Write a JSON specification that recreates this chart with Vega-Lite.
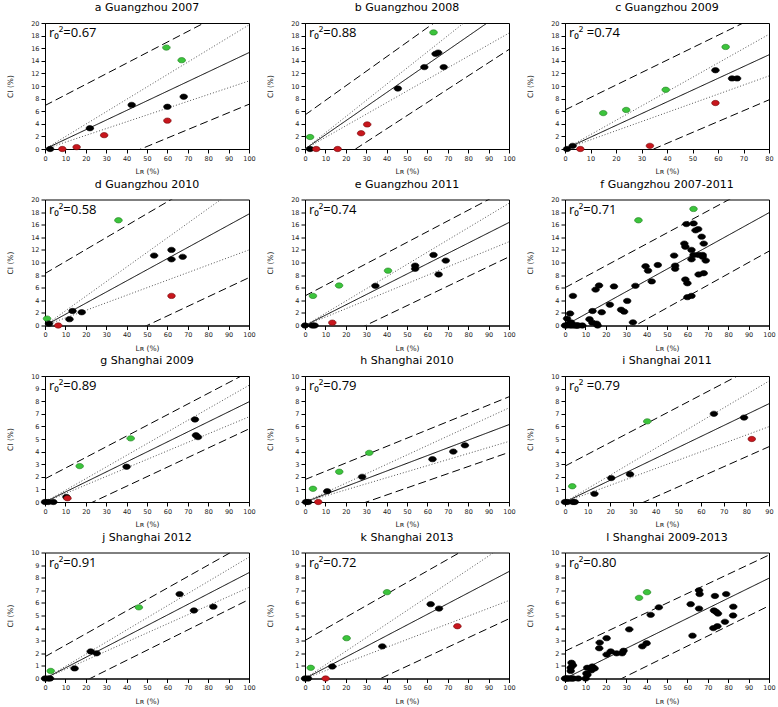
{
"$schema":"https://vega.github.io/schema/vega-lite/v6.json",
"padding":{"left":6,"top":1,"right":4,"bottom":4},
"background":"white",
"columns":3,
"spacing":{"row":50.5,"column":56},
"bounds":"flush",
"config":{
 "view":{"stroke":"#000","strokeWidth":1},
 "axis":{"grid":false,"domainColor":"#000","tickColor":"#000","tickSize":4,"labelFontSize":6.5,"labelFont":"DejaVu Sans","labelColor":"#222","labelPadding":2,"labelFlush":false,"labelOverlap":false,"labelSeparation":0,"titleFontSize":7.5,"titleFont":"DejaVu Sans","titleFontWeight":"normal","titleColor":"#222"},
 "axisX":{"titlePadding":6},
 "axisY":{"titlePadding":16},
 "title":{"fontSize":11,"font":"DejaVu Sans","fontWeight":"normal","color":"#000","offset":7}
},
"datasets":{
"lines":[
{"p":"a","s":"fit","x":0,"y":0},{"p":"a","s":"fit","x":100,"y":15.3},
{"p":"a","s":"ciU","x":0,"y":0},{"p":"a","s":"ciU","x":100,"y":19.7},
{"p":"a","s":"ciL","x":0,"y":0},{"p":"a","s":"ciL","x":100,"y":10.8},
{"p":"a","s":"piU","x":0,"y":6.9},{"p":"a","s":"piU","x":100,"y":23.7},
{"p":"a","s":"piL","x":0,"y":-6.3},{"p":"a","s":"piL","x":100,"y":7.1},
{"p":"b","s":"fit","x":0,"y":0},{"p":"b","s":"fit","x":100,"y":22.4},
{"p":"b","s":"ciU","x":0,"y":0},{"p":"b","s":"ciU","x":100,"y":25.7},
{"p":"b","s":"ciL","x":0,"y":0},{"p":"b","s":"ciL","x":100,"y":18.4},
{"p":"b","s":"piU","x":0,"y":5.4},{"p":"b","s":"piU","x":100,"y":28.5},
{"p":"b","s":"piL","x":0,"y":-5.2},{"p":"b","s":"piL","x":100,"y":15.8},
{"p":"c","s":"fit","x":0,"y":0},{"p":"c","s":"fit","x":80,"y":14.95},
{"p":"c","s":"ciU","x":0,"y":0},{"p":"c","s":"ciU","x":80,"y":18.2},
{"p":"c","s":"ciL","x":0,"y":0},{"p":"c","s":"ciL","x":80,"y":11.6},
{"p":"c","s":"piU","x":0,"y":6.2},{"p":"c","s":"piU","x":80,"y":22.0},
{"p":"c","s":"piL","x":0,"y":-6.0},{"p":"c","s":"piL","x":80,"y":7.8},
{"p":"d","s":"fit","x":0,"y":0},{"p":"d","s":"fit","x":100,"y":17.7},
{"p":"d","s":"ciU","x":0,"y":0},{"p":"d","s":"ciU","x":100,"y":23.2},
{"p":"d","s":"ciL","x":0,"y":0},{"p":"d","s":"ciL","x":100,"y":12.0},
{"p":"d","s":"piU","x":0,"y":8.25},{"p":"d","s":"piU","x":100,"y":27.25},
{"p":"d","s":"piL","x":0,"y":-7.6},{"p":"d","s":"piL","x":100,"y":7.6},
{"p":"e","s":"fit","x":0,"y":0},{"p":"e","s":"fit","x":100,"y":16.35},
{"p":"e","s":"ciU","x":0,"y":0},{"p":"e","s":"ciU","x":100,"y":19.4},
{"p":"e","s":"ciL","x":0,"y":0},{"p":"e","s":"ciL","x":100,"y":13.3},
{"p":"e","s":"piU","x":0,"y":4.7},{"p":"e","s":"piU","x":100,"y":21.7},
{"p":"e","s":"piL","x":0,"y":-4.6},{"p":"e","s":"piL","x":100,"y":10.9},
{"p":"f","s":"fit","x":0,"y":0},{"p":"f","s":"fit","x":100,"y":17.9},
{"p":"f","s":"piU","x":0,"y":6.0},{"p":"f","s":"piU","x":100,"y":23.4},
{"p":"f","s":"piL","x":0,"y":-6.2},{"p":"f","s":"piL","x":100,"y":11.8},
{"p":"g","s":"fit","x":0,"y":0},{"p":"g","s":"fit","x":100,"y":7.95},
{"p":"g","s":"ciU","x":0,"y":0},{"p":"g","s":"ciU","x":100,"y":9.26},
{"p":"g","s":"ciL","x":0,"y":0},{"p":"g","s":"ciL","x":100,"y":6.76},
{"p":"g","s":"piU","x":0,"y":1.84},{"p":"g","s":"piU","x":100,"y":10.32},
{"p":"g","s":"piL","x":0,"y":-1.78},{"p":"g","s":"piL","x":100,"y":5.8},
{"p":"h","s":"fit","x":0,"y":0},{"p":"h","s":"fit","x":100,"y":6.14},
{"p":"h","s":"ciU","x":0,"y":0},{"p":"h","s":"ciU","x":100,"y":7.47},
{"p":"h","s":"ciL","x":0,"y":0},{"p":"h","s":"ciL","x":100,"y":4.81},
{"p":"h","s":"piU","x":0,"y":1.78},{"p":"h","s":"piU","x":100,"y":8.35},
{"p":"h","s":"piL","x":0,"y":-1.7},{"p":"h","s":"piL","x":100,"y":3.94},
{"p":"i","s":"fit","x":0,"y":0},{"p":"i","s":"fit","x":90,"y":7.8},
{"p":"i","s":"ciU","x":0,"y":0},{"p":"i","s":"ciU","x":90,"y":9.6},
{"p":"i","s":"ciL","x":0,"y":0},{"p":"i","s":"ciL","x":90,"y":5.98},
{"p":"i","s":"piU","x":0,"y":2.85},{"p":"i","s":"piU","x":90,"y":11.31},
{"p":"i","s":"piL","x":0,"y":-2.78},{"p":"i","s":"piL","x":90,"y":4.39},
{"p":"j","s":"fit","x":0,"y":0},{"p":"j","s":"fit","x":100,"y":8.4},
{"p":"j","s":"ciU","x":0,"y":0},{"p":"j","s":"ciU","x":100,"y":9.63},
{"p":"j","s":"ciL","x":0,"y":0},{"p":"j","s":"ciL","x":100,"y":7.23},
{"p":"j","s":"piU","x":0,"y":1.73},{"p":"j","s":"piU","x":100,"y":10.82},
{"p":"j","s":"piL","x":0,"y":-1.78},{"p":"j","s":"piL","x":100,"y":6.27},
{"p":"k","s":"fit","x":0,"y":0},{"p":"k","s":"fit","x":100,"y":8.49},
{"p":"k","s":"ciU","x":0,"y":0},{"p":"k","s":"ciU","x":100,"y":10.8},
{"p":"k","s":"ciL","x":0,"y":0},{"p":"k","s":"ciL","x":100,"y":6.19},
{"p":"k","s":"piU","x":0,"y":3.02},{"p":"k","s":"piU","x":100,"y":12.22},
{"p":"k","s":"piL","x":0,"y":-2.79},{"p":"k","s":"piL","x":100,"y":4.74},
{"p":"l","s":"fit","x":0,"y":0},{"p":"l","s":"fit","x":100,"y":7.96},
{"p":"l","s":"piU","x":0,"y":2.17},{"p":"l","s":"piU","x":100,"y":9.8},
{"p":"l","s":"piL","x":0,"y":-2.22},{"p":"l","s":"piL","x":100,"y":5.77}
],
"pts":[
{"p":"a","c":"k","x":2.5,"y":0},{"p":"a","c":"k","x":22,"y":3.3},{"p":"a","c":"k","x":42.5,"y":7.0},{"p":"a","c":"k","x":60,"y":6.7},{"p":"a","c":"k","x":68,"y":8.3},
{"p":"a","c":"g","x":59.5,"y":16.1},{"p":"a","c":"g","x":67,"y":14.1},
{"p":"a","c":"r","x":8.5,"y":0},{"p":"a","c":"r","x":15.5,"y":0.3},{"p":"a","c":"r","x":29,"y":2.2},{"p":"a","c":"r","x":60,"y":4.5},
{"p":"b","c":"g","x":63,"y":18.5},{"p":"b","c":"g","x":2.5,"y":1.9},
{"p":"b","c":"k","x":2.5,"y":0},{"p":"b","c":"k","x":45.5,"y":9.6},{"p":"b","c":"k","x":58.5,"y":13.0},{"p":"b","c":"k","x":64,"y":15.1},{"p":"b","c":"k","x":65.3,"y":15.3},{"p":"b","c":"k","x":68,"y":13.0},
{"p":"b","c":"r","x":5.5,"y":0},{"p":"b","c":"r","x":16,"y":0},{"p":"b","c":"r","x":27.5,"y":2.5},{"p":"b","c":"r","x":30.5,"y":3.9},
{"p":"c","c":"k","x":0.8,"y":0},{"p":"c","c":"k","x":3,"y":0.5},{"p":"c","c":"k","x":59,"y":12.5},{"p":"c","c":"k","x":65.5,"y":11.2},{"p":"c","c":"k","x":67.5,"y":11.2},
{"p":"c","c":"g","x":15,"y":5.7},{"p":"c","c":"g","x":24,"y":6.2},{"p":"c","c":"g","x":39.5,"y":9.4},{"p":"c","c":"g","x":63,"y":16.2},
{"p":"c","c":"r","x":6,"y":0},{"p":"c","c":"r","x":33.3,"y":0.5},{"p":"c","c":"r","x":59,"y":7.3},
{"p":"d","c":"g","x":1,"y":1.1},{"p":"d","c":"g","x":36,"y":16.7},
{"p":"d","c":"k","x":2,"y":0.3},{"p":"d","c":"k","x":12,"y":1.0},{"p":"d","c":"k","x":13.5,"y":2.3},{"p":"d","c":"k","x":18,"y":2.1},{"p":"d","c":"k","x":53.5,"y":11.1},{"p":"d","c":"k","x":62,"y":12.0},{"p":"d","c":"k","x":62,"y":10.5},{"p":"d","c":"k","x":67.5,"y":10.9},
{"p":"d","c":"r","x":6.5,"y":0},{"p":"d","c":"r","x":62,"y":4.7},
{"p":"e","c":"k","x":0,"y":0},{"p":"e","c":"k","x":3.6,"y":0},{"p":"e","c":"k","x":4.7,"y":0},{"p":"e","c":"k","x":34.5,"y":6.3},{"p":"e","c":"k","x":54,"y":9.5},{"p":"e","c":"k","x":54,"y":9.0},{"p":"e","c":"k","x":63,"y":11.2},{"p":"e","c":"k","x":65.5,"y":8.1},{"p":"e","c":"k","x":69,"y":10.3},
{"p":"e","c":"g","x":3.9,"y":4.7},{"p":"e","c":"g","x":16.7,"y":6.35},{"p":"e","c":"g","x":40.7,"y":8.7},
{"p":"e","c":"r","x":13.4,"y":0.45},
{"p":"f","c":"k","x":2.5,"y":0},{"p":"f","c":"k","x":22,"y":3.3},{"p":"f","c":"k","x":42.5,"y":7.0},{"p":"f","c":"k","x":60,"y":6.7},{"p":"f","c":"k","x":68,"y":8.3},
{"p":"f","c":"k","x":59.5,"y":16.1},{"p":"f","c":"k","x":67,"y":14.1},
{"p":"f","c":"k","x":8.5,"y":0},{"p":"f","c":"k","x":15.5,"y":0.3},{"p":"f","c":"k","x":29,"y":2.2},{"p":"f","c":"k","x":60,"y":4.5},
{"p":"f","c":"k","x":2.5,"y":1.9},
{"p":"f","c":"k","x":45.5,"y":9.6},{"p":"f","c":"k","x":58.5,"y":13.0},{"p":"f","c":"k","x":64,"y":15.1},{"p":"f","c":"k","x":65.3,"y":15.3},{"p":"f","c":"k","x":68,"y":13.0},
{"p":"f","c":"k","x":5.5,"y":0},{"p":"f","c":"k","x":16,"y":0},{"p":"f","c":"k","x":27.5,"y":2.5},{"p":"f","c":"k","x":30.5,"y":3.9},
{"p":"f","c":"k","x":0.8,"y":0},{"p":"f","c":"k","x":3,"y":0.5},{"p":"f","c":"k","x":59,"y":12.5},{"p":"f","c":"k","x":65.5,"y":11.2},{"p":"f","c":"k","x":67.5,"y":11.2},
{"p":"f","c":"k","x":15,"y":5.7},{"p":"f","c":"k","x":24,"y":6.2},{"p":"f","c":"k","x":39.5,"y":9.4},{"p":"f","c":"k","x":63,"y":16.2},
{"p":"f","c":"k","x":6,"y":0},{"p":"f","c":"k","x":33.3,"y":0.5},{"p":"f","c":"k","x":59,"y":7.3},
{"p":"f","c":"k","x":1,"y":1.1},
{"p":"f","c":"k","x":2,"y":0.3},{"p":"f","c":"k","x":12,"y":1.0},{"p":"f","c":"k","x":13.5,"y":2.3},{"p":"f","c":"k","x":18,"y":2.1},{"p":"f","c":"k","x":53.5,"y":11.1},{"p":"f","c":"k","x":62,"y":12.0},{"p":"f","c":"k","x":62,"y":10.5},{"p":"f","c":"k","x":67.5,"y":10.9},
{"p":"f","c":"k","x":6.5,"y":0},{"p":"f","c":"k","x":62,"y":4.7},
{"p":"f","c":"k","x":0,"y":0},{"p":"f","c":"k","x":3.6,"y":0},{"p":"f","c":"k","x":4.7,"y":0},{"p":"f","c":"k","x":34.5,"y":6.3},{"p":"f","c":"k","x":54,"y":9.5},{"p":"f","c":"k","x":54,"y":9.0},{"p":"f","c":"k","x":63,"y":11.2},{"p":"f","c":"k","x":65.5,"y":8.1},{"p":"f","c":"k","x":69,"y":10.3},
{"p":"f","c":"k","x":3.9,"y":4.7},{"p":"f","c":"k","x":16.7,"y":6.35},{"p":"f","c":"k","x":40.7,"y":8.7},
{"p":"f","c":"k","x":13.4,"y":0.45},
{"p":"f","c":"g","x":36,"y":16.7},{"p":"f","c":"g","x":63,"y":18.5},
{"p":"g","c":"k","x":0,"y":0},{"p":"g","c":"k","x":1.6,"y":0},{"p":"g","c":"k","x":4.1,"y":0},{"p":"g","c":"k","x":10.5,"y":0.4},{"p":"g","c":"k","x":40,"y":2.8},{"p":"g","c":"k","x":73.5,"y":6.55},{"p":"g","c":"k","x":74,"y":5.3},{"p":"g","c":"k","x":75,"y":5.15},
{"p":"g","c":"g","x":17,"y":2.85},{"p":"g","c":"g","x":42,"y":5.05},
{"p":"g","c":"r","x":11,"y":0.3},
{"p":"h","c":"k","x":0.5,"y":0},{"p":"h","c":"k","x":1.6,"y":0},{"p":"h","c":"k","x":10.9,"y":0.85},{"p":"h","c":"k","x":28,"y":2.0},{"p":"h","c":"k","x":62.5,"y":3.4},{"p":"h","c":"k","x":72.7,"y":4.0},{"p":"h","c":"k","x":78.4,"y":4.5},
{"p":"h","c":"g","x":3.9,"y":1.05},{"p":"h","c":"g","x":16.8,"y":2.4},{"p":"h","c":"g","x":31.5,"y":3.9},
{"p":"h","c":"r","x":6.5,"y":0},
{"p":"i","c":"k","x":0,"y":0},{"p":"i","c":"k","x":1,"y":0},{"p":"i","c":"k","x":3.5,"y":0},{"p":"i","c":"k","x":4.3,"y":0},{"p":"i","c":"k","x":13,"y":0.65},{"p":"i","c":"k","x":20.4,"y":1.9},{"p":"i","c":"k","x":28.7,"y":2.2},{"p":"i","c":"k","x":65.7,"y":7.0},{"p":"i","c":"k","x":79,"y":6.7},
{"p":"i","c":"g","x":3.2,"y":1.25},{"p":"i","c":"g","x":36.3,"y":6.4},
{"p":"i","c":"r","x":82.4,"y":5.0},
{"p":"j","c":"k","x":0,"y":0},{"p":"j","c":"k","x":1.5,"y":0},{"p":"j","c":"k","x":2.5,"y":0},{"p":"j","c":"k","x":14.5,"y":0.8},{"p":"j","c":"k","x":22.4,"y":2.15},{"p":"j","c":"k","x":25.3,"y":2.0},{"p":"j","c":"k","x":66,"y":6.7},{"p":"j","c":"k","x":73,"y":5.4},{"p":"j","c":"k","x":82.5,"y":5.7},
{"p":"j","c":"g","x":2.8,"y":0.6},{"p":"j","c":"g","x":46,"y":5.65},
{"p":"k","c":"k","x":0,"y":0},{"p":"k","c":"k","x":1.5,"y":0},{"p":"k","c":"k","x":13.4,"y":0.95},{"p":"k","c":"k","x":37.9,"y":2.55},{"p":"k","c":"k","x":61.6,"y":5.9},{"p":"k","c":"k","x":65.7,"y":5.55},
{"p":"k","c":"g","x":2.8,"y":0.85},{"p":"k","c":"g","x":20.4,"y":3.2},{"p":"k","c":"g","x":40.2,"y":6.85},
{"p":"k","c":"r","x":10.1,"y":0},{"p":"k","c":"r","x":74.7,"y":4.15},
{"p":"l","c":"k","x":0,"y":0},{"p":"l","c":"k","x":1.6,"y":0},{"p":"l","c":"k","x":4.1,"y":0},{"p":"l","c":"k","x":10.5,"y":0.4},{"p":"l","c":"k","x":40,"y":2.8},{"p":"l","c":"k","x":73.5,"y":6.55},{"p":"l","c":"k","x":74,"y":5.3},{"p":"l","c":"k","x":75,"y":5.15},
{"p":"l","c":"k","x":17,"y":2.85},{"p":"l","c":"k","x":42,"y":5.05},{"p":"l","c":"k","x":11,"y":0.3},
{"p":"l","c":"k","x":0.5,"y":0},{"p":"l","c":"k","x":10.9,"y":0.85},{"p":"l","c":"k","x":28,"y":2.0},{"p":"l","c":"k","x":62.5,"y":3.4},{"p":"l","c":"k","x":72.7,"y":4.0},{"p":"l","c":"k","x":78.4,"y":4.5},
{"p":"l","c":"k","x":3.9,"y":1.05},{"p":"l","c":"k","x":16.8,"y":2.4},{"p":"l","c":"k","x":31.5,"y":3.9},{"p":"l","c":"k","x":6.5,"y":0},
{"p":"l","c":"k","x":1,"y":0},{"p":"l","c":"k","x":3.5,"y":0},{"p":"l","c":"k","x":13,"y":0.65},{"p":"l","c":"k","x":20.4,"y":1.9},{"p":"l","c":"k","x":28.7,"y":2.2},{"p":"l","c":"k","x":65.7,"y":7.0},{"p":"l","c":"k","x":79,"y":6.7},
{"p":"l","c":"k","x":3.2,"y":1.25},{"p":"l","c":"k","x":82.4,"y":5.0},
{"p":"l","c":"k","x":2.5,"y":0},{"p":"l","c":"k","x":14.5,"y":0.8},{"p":"l","c":"k","x":22.4,"y":2.15},{"p":"l","c":"k","x":25.3,"y":2.0},{"p":"l","c":"k","x":66,"y":6.7},{"p":"l","c":"k","x":73,"y":5.4},{"p":"l","c":"k","x":82.5,"y":5.7},
{"p":"l","c":"k","x":2.8,"y":0.6},{"p":"l","c":"k","x":46,"y":5.65},
{"p":"l","c":"k","x":13.4,"y":0.95},{"p":"l","c":"k","x":37.9,"y":2.55},{"p":"l","c":"k","x":61.6,"y":5.9},{"p":"l","c":"k","x":65.7,"y":5.55},
{"p":"l","c":"k","x":2.8,"y":0.85},{"p":"l","c":"k","x":20.4,"y":3.2},
{"p":"l","c":"k","x":10.1,"y":0},{"p":"l","c":"k","x":74.7,"y":4.15},
{"p":"l","c":"g","x":36.3,"y":6.4},{"p":"l","c":"g","x":40.2,"y":6.85}
]
},
"concat":[
{"width":204,"height":126,"title":"a  Guangzhou 2007",
 "encoding":{"x":{"field":"x","type":"quantitative","scale":{"domain":[0,100]},"axis":{"values":[0,10,20,30,40,50,60,70,80,90,100],"labelOverlap":false,"title":"Lʀ (%)"}},
   "y":{"field":"y","type":"quantitative","scale":{"domain":[0,20]},"axis":{"values":[0,2,4,6,8,10,12,14,16,18,20],"labelOverlap":false,"title":"CI (%)"}}},
 "layer":[
 {"data":{"name":"lines"},"transform":[{"filter":"datum.p=='a'"}],"mark":{"type":"line","clip":true,"strokeWidth":1},
  "encoding":{"detail":{"field":"s"},
   "strokeDash":{"field":"s","type":"nominal","scale":{"domain":["fit","ciU","ciL","piU","piL"],"range":[[1,0],[1,2],[1,2],[8,4],[8,4]]},"legend":null},
   "color":{"field":"s","type":"nominal","scale":{"domain":["fit","ciU","ciL","piU","piL"],"range":["#000","#555","#555","#000","#000"]},"legend":null}}},
 {"data":{"name":"pts"},"transform":[{"filter":"datum.p=='a'"}],"mark":{"type":"point","filled":true,"opacity":1,"shape":"M-1,0A1,0.7,0,1,1,1,0A1,0.7,0,1,1,-1,0Z","size":58,"strokeWidth":0.6},
  "encoding":{
   "fill":{"field":"c","type":"nominal","scale":{"domain":["k","g","r"],"range":["#000","#3cc43c","#c8161d"]},"legend":null},
   "stroke":{"field":"c","type":"nominal","scale":{"domain":["k","g","r"],"range":["#000","#1f7a1f","#6e0a0a"]},"legend":null}}},
 {"data":{"values":[{"x":0,"y":20}]},"mark":{"type":"text","align":"left","baseline":"middle","dx":4,"dy":10,"fontSize":13,"font":"Open Sans"},
  "encoding":{"text":{"value":"r₀²=0.67"}}}
]},
{"width":204,"height":126,"title":"b  Guangzhou 2008",
 "encoding":{"x":{"field":"x","type":"quantitative","scale":{"domain":[0,100]},"axis":{"values":[0,10,20,30,40,50,60,70,80,90,100],"labelOverlap":false,"title":"Lʀ (%)"}},
   "y":{"field":"y","type":"quantitative","scale":{"domain":[0,20]},"axis":{"values":[0,2,4,6,8,10,12,14,16,18,20],"labelOverlap":false,"title":"CI (%)"}}},
 "layer":[
 {"data":{"name":"lines"},"transform":[{"filter":"datum.p=='b'"}],"mark":{"type":"line","clip":true,"strokeWidth":1},
  "encoding":{"detail":{"field":"s"},
   "strokeDash":{"field":"s","type":"nominal","scale":{"domain":["fit","ciU","ciL","piU","piL"],"range":[[1,0],[1,2],[1,2],[8,4],[8,4]]},"legend":null},
   "color":{"field":"s","type":"nominal","scale":{"domain":["fit","ciU","ciL","piU","piL"],"range":["#000","#555","#555","#000","#000"]},"legend":null}}},
 {"data":{"name":"pts"},"transform":[{"filter":"datum.p=='b'"}],"mark":{"type":"point","filled":true,"opacity":1,"shape":"M-1,0A1,0.7,0,1,1,1,0A1,0.7,0,1,1,-1,0Z","size":58,"strokeWidth":0.6},
  "encoding":{
   "fill":{"field":"c","type":"nominal","scale":{"domain":["k","g","r"],"range":["#000","#3cc43c","#c8161d"]},"legend":null},
   "stroke":{"field":"c","type":"nominal","scale":{"domain":["k","g","r"],"range":["#000","#1f7a1f","#6e0a0a"]},"legend":null}}},
 {"data":{"values":[{"x":0,"y":20}]},"mark":{"type":"text","align":"left","baseline":"middle","dx":4,"dy":10,"fontSize":13,"font":"Open Sans"},
  "encoding":{"text":{"value":"r₀²=0.88"}}}
]},
{"width":204,"height":126,"title":"c  Guangzhou 2009",
 "encoding":{"x":{"field":"x","type":"quantitative","scale":{"domain":[0,80]},"axis":{"values":[0,10,20,30,40,50,60,70,80],"labelOverlap":false,"title":"Lʀ (%)"}},
   "y":{"field":"y","type":"quantitative","scale":{"domain":[0,20]},"axis":{"values":[0,2,4,6,8,10,12,14,16,18,20],"labelOverlap":false,"title":"CI (%)"}}},
 "layer":[
 {"data":{"name":"lines"},"transform":[{"filter":"datum.p=='c'"}],"mark":{"type":"line","clip":true,"strokeWidth":1},
  "encoding":{"detail":{"field":"s"},
   "strokeDash":{"field":"s","type":"nominal","scale":{"domain":["fit","ciU","ciL","piU","piL"],"range":[[1,0],[1,2],[1,2],[8,4],[8,4]]},"legend":null},
   "color":{"field":"s","type":"nominal","scale":{"domain":["fit","ciU","ciL","piU","piL"],"range":["#000","#555","#555","#000","#000"]},"legend":null}}},
 {"data":{"name":"pts"},"transform":[{"filter":"datum.p=='c'"}],"mark":{"type":"point","filled":true,"opacity":1,"shape":"M-1,0A1,0.7,0,1,1,1,0A1,0.7,0,1,1,-1,0Z","size":58,"strokeWidth":0.6},
  "encoding":{
   "fill":{"field":"c","type":"nominal","scale":{"domain":["k","g","r"],"range":["#000","#3cc43c","#c8161d"]},"legend":null},
   "stroke":{"field":"c","type":"nominal","scale":{"domain":["k","g","r"],"range":["#000","#1f7a1f","#6e0a0a"]},"legend":null}}},
 {"data":{"values":[{"x":0,"y":20}]},"mark":{"type":"text","align":"left","baseline":"middle","dx":4,"dy":10,"fontSize":13,"font":"Open Sans"},
  "encoding":{"text":{"value":"r₀² =0.74"}}}
]},
{"width":204,"height":126,"title":"d  Guangzhou 2010",
 "encoding":{"x":{"field":"x","type":"quantitative","scale":{"domain":[0,100]},"axis":{"values":[0,10,20,30,40,50,60,70,80,90,100],"labelOverlap":false,"title":"Lʀ (%)"}},
   "y":{"field":"y","type":"quantitative","scale":{"domain":[0,20]},"axis":{"values":[0,2,4,6,8,10,12,14,16,18,20],"labelOverlap":false,"title":"CI (%)"}}},
 "layer":[
 {"data":{"name":"lines"},"transform":[{"filter":"datum.p=='d'"}],"mark":{"type":"line","clip":true,"strokeWidth":1},
  "encoding":{"detail":{"field":"s"},
   "strokeDash":{"field":"s","type":"nominal","scale":{"domain":["fit","ciU","ciL","piU","piL"],"range":[[1,0],[1,2],[1,2],[8,4],[8,4]]},"legend":null},
   "color":{"field":"s","type":"nominal","scale":{"domain":["fit","ciU","ciL","piU","piL"],"range":["#000","#555","#555","#000","#000"]},"legend":null}}},
 {"data":{"name":"pts"},"transform":[{"filter":"datum.p=='d'"}],"mark":{"type":"point","filled":true,"opacity":1,"shape":"M-1,0A1,0.7,0,1,1,1,0A1,0.7,0,1,1,-1,0Z","size":58,"strokeWidth":0.6},
  "encoding":{
   "fill":{"field":"c","type":"nominal","scale":{"domain":["k","g","r"],"range":["#000","#3cc43c","#c8161d"]},"legend":null},
   "stroke":{"field":"c","type":"nominal","scale":{"domain":["k","g","r"],"range":["#000","#1f7a1f","#6e0a0a"]},"legend":null}}},
 {"data":{"values":[{"x":0,"y":20}]},"mark":{"type":"text","align":"left","baseline":"middle","dx":4,"dy":10,"fontSize":13,"font":"Open Sans"},
  "encoding":{"text":{"value":"r₀²=0.58"}}}
]},
{"width":204,"height":126,"title":"e  Guangzhou 2011",
 "encoding":{"x":{"field":"x","type":"quantitative","scale":{"domain":[0,100]},"axis":{"values":[0,10,20,30,40,50,60,70,80,90,100],"labelOverlap":false,"title":"Lʀ (%)"}},
   "y":{"field":"y","type":"quantitative","scale":{"domain":[0,20]},"axis":{"values":[0,2,4,6,8,10,12,14,16,18,20],"labelOverlap":false,"title":"CI (%)"}}},
 "layer":[
 {"data":{"name":"lines"},"transform":[{"filter":"datum.p=='e'"}],"mark":{"type":"line","clip":true,"strokeWidth":1},
  "encoding":{"detail":{"field":"s"},
   "strokeDash":{"field":"s","type":"nominal","scale":{"domain":["fit","ciU","ciL","piU","piL"],"range":[[1,0],[1,2],[1,2],[8,4],[8,4]]},"legend":null},
   "color":{"field":"s","type":"nominal","scale":{"domain":["fit","ciU","ciL","piU","piL"],"range":["#000","#555","#555","#000","#000"]},"legend":null}}},
 {"data":{"name":"pts"},"transform":[{"filter":"datum.p=='e'"}],"mark":{"type":"point","filled":true,"opacity":1,"shape":"M-1,0A1,0.7,0,1,1,1,0A1,0.7,0,1,1,-1,0Z","size":58,"strokeWidth":0.6},
  "encoding":{
   "fill":{"field":"c","type":"nominal","scale":{"domain":["k","g","r"],"range":["#000","#3cc43c","#c8161d"]},"legend":null},
   "stroke":{"field":"c","type":"nominal","scale":{"domain":["k","g","r"],"range":["#000","#1f7a1f","#6e0a0a"]},"legend":null}}},
 {"data":{"values":[{"x":0,"y":20}]},"mark":{"type":"text","align":"left","baseline":"middle","dx":4,"dy":10,"fontSize":13,"font":"Open Sans"},
  "encoding":{"text":{"value":"r₀²=0.74"}}}
]},
{"width":204,"height":126,"title":"f  Guangzhou 2007-2011",
 "encoding":{"x":{"field":"x","type":"quantitative","scale":{"domain":[0,100]},"axis":{"values":[0,10,20,30,40,50,60,70,80,90,100],"labelOverlap":false,"title":"Lʀ (%)"}},
   "y":{"field":"y","type":"quantitative","scale":{"domain":[0,20]},"axis":{"values":[0,2,4,6,8,10,12,14,16,18,20],"labelOverlap":false,"title":"CI (%)"}}},
 "layer":[
 {"data":{"name":"lines"},"transform":[{"filter":"datum.p=='f'"}],"mark":{"type":"line","clip":true,"strokeWidth":1},
  "encoding":{"detail":{"field":"s"},
   "strokeDash":{"field":"s","type":"nominal","scale":{"domain":["fit","ciU","ciL","piU","piL"],"range":[[1,0],[1,2],[1,2],[8,4],[8,4]]},"legend":null},
   "color":{"field":"s","type":"nominal","scale":{"domain":["fit","ciU","ciL","piU","piL"],"range":["#000","#555","#555","#000","#000"]},"legend":null}}},
 {"data":{"name":"pts"},"transform":[{"filter":"datum.p=='f'"}],"mark":{"type":"point","filled":true,"opacity":1,"shape":"M-1,0A1,0.7,0,1,1,1,0A1,0.7,0,1,1,-1,0Z","size":58,"strokeWidth":0.6},
  "encoding":{
   "fill":{"field":"c","type":"nominal","scale":{"domain":["k","g","r"],"range":["#000","#3cc43c","#c8161d"]},"legend":null},
   "stroke":{"field":"c","type":"nominal","scale":{"domain":["k","g","r"],"range":["#000","#1f7a1f","#6e0a0a"]},"legend":null}}},
 {"data":{"values":[{"x":0,"y":20}]},"mark":{"type":"text","align":"left","baseline":"middle","dx":4,"dy":10,"fontSize":13,"font":"Open Sans"},
  "encoding":{"text":{"value":"r₀²=0.71"}}}
]},
{"width":204,"height":126,"title":"g  Shanghai 2009",
 "encoding":{"x":{"field":"x","type":"quantitative","scale":{"domain":[0,100]},"axis":{"values":[0,10,20,30,40,50,60,70,80,90,100],"labelOverlap":false,"title":"Lʀ (%)"}},
   "y":{"field":"y","type":"quantitative","scale":{"domain":[0,10]},"axis":{"values":[0,1,2,3,4,5,6,7,8,9,10],"labelOverlap":false,"title":"CI (%)"}}},
 "layer":[
 {"data":{"name":"lines"},"transform":[{"filter":"datum.p=='g'"}],"mark":{"type":"line","clip":true,"strokeWidth":1},
  "encoding":{"detail":{"field":"s"},
   "strokeDash":{"field":"s","type":"nominal","scale":{"domain":["fit","ciU","ciL","piU","piL"],"range":[[1,0],[1,2],[1,2],[8,4],[8,4]]},"legend":null},
   "color":{"field":"s","type":"nominal","scale":{"domain":["fit","ciU","ciL","piU","piL"],"range":["#000","#555","#555","#000","#000"]},"legend":null}}},
 {"data":{"name":"pts"},"transform":[{"filter":"datum.p=='g'"}],"mark":{"type":"point","filled":true,"opacity":1,"shape":"M-1,0A1,0.7,0,1,1,1,0A1,0.7,0,1,1,-1,0Z","size":58,"strokeWidth":0.6},
  "encoding":{
   "fill":{"field":"c","type":"nominal","scale":{"domain":["k","g","r"],"range":["#000","#3cc43c","#c8161d"]},"legend":null},
   "stroke":{"field":"c","type":"nominal","scale":{"domain":["k","g","r"],"range":["#000","#1f7a1f","#6e0a0a"]},"legend":null}}},
 {"data":{"values":[{"x":0,"y":10}]},"mark":{"type":"text","align":"left","baseline":"middle","dx":4,"dy":10,"fontSize":13,"font":"Open Sans"},
  "encoding":{"text":{"value":"r₀²=0.89"}}}
]},
{"width":204,"height":126,"title":"h  Shanghai 2010",
 "encoding":{"x":{"field":"x","type":"quantitative","scale":{"domain":[0,100]},"axis":{"values":[0,10,20,30,40,50,60,70,80,90,100],"labelOverlap":false,"title":"Lʀ (%)"}},
   "y":{"field":"y","type":"quantitative","scale":{"domain":[0,10]},"axis":{"values":[0,1,2,3,4,5,6,7,8,9,10],"labelOverlap":false,"title":"CI (%)"}}},
 "layer":[
 {"data":{"name":"lines"},"transform":[{"filter":"datum.p=='h'"}],"mark":{"type":"line","clip":true,"strokeWidth":1},
  "encoding":{"detail":{"field":"s"},
   "strokeDash":{"field":"s","type":"nominal","scale":{"domain":["fit","ciU","ciL","piU","piL"],"range":[[1,0],[1,2],[1,2],[8,4],[8,4]]},"legend":null},
   "color":{"field":"s","type":"nominal","scale":{"domain":["fit","ciU","ciL","piU","piL"],"range":["#000","#555","#555","#000","#000"]},"legend":null}}},
 {"data":{"name":"pts"},"transform":[{"filter":"datum.p=='h'"}],"mark":{"type":"point","filled":true,"opacity":1,"shape":"M-1,0A1,0.7,0,1,1,1,0A1,0.7,0,1,1,-1,0Z","size":58,"strokeWidth":0.6},
  "encoding":{
   "fill":{"field":"c","type":"nominal","scale":{"domain":["k","g","r"],"range":["#000","#3cc43c","#c8161d"]},"legend":null},
   "stroke":{"field":"c","type":"nominal","scale":{"domain":["k","g","r"],"range":["#000","#1f7a1f","#6e0a0a"]},"legend":null}}},
 {"data":{"values":[{"x":0,"y":10}]},"mark":{"type":"text","align":"left","baseline":"middle","dx":4,"dy":10,"fontSize":13,"font":"Open Sans"},
  "encoding":{"text":{"value":"r₀²=0.79"}}}
]},
{"width":204,"height":126,"title":"i  Shanghai 2011",
 "encoding":{"x":{"field":"x","type":"quantitative","scale":{"domain":[0,90]},"axis":{"values":[0,10,20,30,40,50,60,70,80,90],"labelOverlap":false,"title":"Lʀ (%)"}},
   "y":{"field":"y","type":"quantitative","scale":{"domain":[0,10]},"axis":{"values":[0,1,2,3,4,5,6,7,8,9,10],"labelOverlap":false,"title":"CI (%)"}}},
 "layer":[
 {"data":{"name":"lines"},"transform":[{"filter":"datum.p=='i'"}],"mark":{"type":"line","clip":true,"strokeWidth":1},
  "encoding":{"detail":{"field":"s"},
   "strokeDash":{"field":"s","type":"nominal","scale":{"domain":["fit","ciU","ciL","piU","piL"],"range":[[1,0],[1,2],[1,2],[8,4],[8,4]]},"legend":null},
   "color":{"field":"s","type":"nominal","scale":{"domain":["fit","ciU","ciL","piU","piL"],"range":["#000","#555","#555","#000","#000"]},"legend":null}}},
 {"data":{"name":"pts"},"transform":[{"filter":"datum.p=='i'"}],"mark":{"type":"point","filled":true,"opacity":1,"shape":"M-1,0A1,0.7,0,1,1,1,0A1,0.7,0,1,1,-1,0Z","size":58,"strokeWidth":0.6},
  "encoding":{
   "fill":{"field":"c","type":"nominal","scale":{"domain":["k","g","r"],"range":["#000","#3cc43c","#c8161d"]},"legend":null},
   "stroke":{"field":"c","type":"nominal","scale":{"domain":["k","g","r"],"range":["#000","#1f7a1f","#6e0a0a"]},"legend":null}}},
 {"data":{"values":[{"x":0,"y":10}]},"mark":{"type":"text","align":"left","baseline":"middle","dx":4,"dy":10,"fontSize":13,"font":"Open Sans"},
  "encoding":{"text":{"value":"r₀² =0.79"}}}
]},
{"width":204,"height":126,"title":"j  Shanghai 2012",
 "encoding":{"x":{"field":"x","type":"quantitative","scale":{"domain":[0,100]},"axis":{"values":[0,10,20,30,40,50,60,70,80,90,100],"labelOverlap":false,"title":"Lʀ (%)"}},
   "y":{"field":"y","type":"quantitative","scale":{"domain":[0,10]},"axis":{"values":[0,1,2,3,4,5,6,7,8,9,10],"labelOverlap":false,"title":"CI (%)"}}},
 "layer":[
 {"data":{"name":"lines"},"transform":[{"filter":"datum.p=='j'"}],"mark":{"type":"line","clip":true,"strokeWidth":1},
  "encoding":{"detail":{"field":"s"},
   "strokeDash":{"field":"s","type":"nominal","scale":{"domain":["fit","ciU","ciL","piU","piL"],"range":[[1,0],[1,2],[1,2],[8,4],[8,4]]},"legend":null},
   "color":{"field":"s","type":"nominal","scale":{"domain":["fit","ciU","ciL","piU","piL"],"range":["#000","#555","#555","#000","#000"]},"legend":null}}},
 {"data":{"name":"pts"},"transform":[{"filter":"datum.p=='j'"}],"mark":{"type":"point","filled":true,"opacity":1,"shape":"M-1,0A1,0.7,0,1,1,1,0A1,0.7,0,1,1,-1,0Z","size":58,"strokeWidth":0.6},
  "encoding":{
   "fill":{"field":"c","type":"nominal","scale":{"domain":["k","g","r"],"range":["#000","#3cc43c","#c8161d"]},"legend":null},
   "stroke":{"field":"c","type":"nominal","scale":{"domain":["k","g","r"],"range":["#000","#1f7a1f","#6e0a0a"]},"legend":null}}},
 {"data":{"values":[{"x":0,"y":10}]},"mark":{"type":"text","align":"left","baseline":"middle","dx":4,"dy":10,"fontSize":13,"font":"Open Sans"},
  "encoding":{"text":{"value":"r₀²=0.91"}}}
]},
{"width":204,"height":126,"title":"k  Shanghai 2013",
 "encoding":{"x":{"field":"x","type":"quantitative","scale":{"domain":[0,100]},"axis":{"values":[0,10,20,30,40,50,60,70,80,90,100],"labelOverlap":false,"title":"Lʀ (%)"}},
   "y":{"field":"y","type":"quantitative","scale":{"domain":[0,10]},"axis":{"values":[0,1,2,3,4,5,6,7,8,9,10],"labelOverlap":false,"title":"CI (%)"}}},
 "layer":[
 {"data":{"name":"lines"},"transform":[{"filter":"datum.p=='k'"}],"mark":{"type":"line","clip":true,"strokeWidth":1},
  "encoding":{"detail":{"field":"s"},
   "strokeDash":{"field":"s","type":"nominal","scale":{"domain":["fit","ciU","ciL","piU","piL"],"range":[[1,0],[1,2],[1,2],[8,4],[8,4]]},"legend":null},
   "color":{"field":"s","type":"nominal","scale":{"domain":["fit","ciU","ciL","piU","piL"],"range":["#000","#555","#555","#000","#000"]},"legend":null}}},
 {"data":{"name":"pts"},"transform":[{"filter":"datum.p=='k'"}],"mark":{"type":"point","filled":true,"opacity":1,"shape":"M-1,0A1,0.7,0,1,1,1,0A1,0.7,0,1,1,-1,0Z","size":58,"strokeWidth":0.6},
  "encoding":{
   "fill":{"field":"c","type":"nominal","scale":{"domain":["k","g","r"],"range":["#000","#3cc43c","#c8161d"]},"legend":null},
   "stroke":{"field":"c","type":"nominal","scale":{"domain":["k","g","r"],"range":["#000","#1f7a1f","#6e0a0a"]},"legend":null}}},
 {"data":{"values":[{"x":0,"y":10}]},"mark":{"type":"text","align":"left","baseline":"middle","dx":4,"dy":10,"fontSize":13,"font":"Open Sans"},
  "encoding":{"text":{"value":"r₀²=0.72"}}}
]},
{"width":204,"height":126,"title":"l  Shanghai 2009-2013",
 "encoding":{"x":{"field":"x","type":"quantitative","scale":{"domain":[0,100]},"axis":{"values":[0,10,20,30,40,50,60,70,80,90,100],"labelOverlap":false,"title":"Lʀ (%)"}},
   "y":{"field":"y","type":"quantitative","scale":{"domain":[0,10]},"axis":{"values":[0,1,2,3,4,5,6,7,8,9,10],"labelOverlap":false,"title":"CI (%)"}}},
 "layer":[
 {"data":{"name":"lines"},"transform":[{"filter":"datum.p=='l'"}],"mark":{"type":"line","clip":true,"strokeWidth":1},
  "encoding":{"detail":{"field":"s"},
   "strokeDash":{"field":"s","type":"nominal","scale":{"domain":["fit","ciU","ciL","piU","piL"],"range":[[1,0],[1,2],[1,2],[8,4],[8,4]]},"legend":null},
   "color":{"field":"s","type":"nominal","scale":{"domain":["fit","ciU","ciL","piU","piL"],"range":["#000","#555","#555","#000","#000"]},"legend":null}}},
 {"data":{"name":"pts"},"transform":[{"filter":"datum.p=='l'"}],"mark":{"type":"point","filled":true,"opacity":1,"shape":"M-1,0A1,0.7,0,1,1,1,0A1,0.7,0,1,1,-1,0Z","size":58,"strokeWidth":0.6},
  "encoding":{
   "fill":{"field":"c","type":"nominal","scale":{"domain":["k","g","r"],"range":["#000","#3cc43c","#c8161d"]},"legend":null},
   "stroke":{"field":"c","type":"nominal","scale":{"domain":["k","g","r"],"range":["#000","#1f7a1f","#6e0a0a"]},"legend":null}}},
 {"data":{"values":[{"x":0,"y":10}]},"mark":{"type":"text","align":"left","baseline":"middle","dx":4,"dy":10,"fontSize":13,"font":"Open Sans"},
  "encoding":{"text":{"value":"r₀²=0.80"}}}
]}
]
}
